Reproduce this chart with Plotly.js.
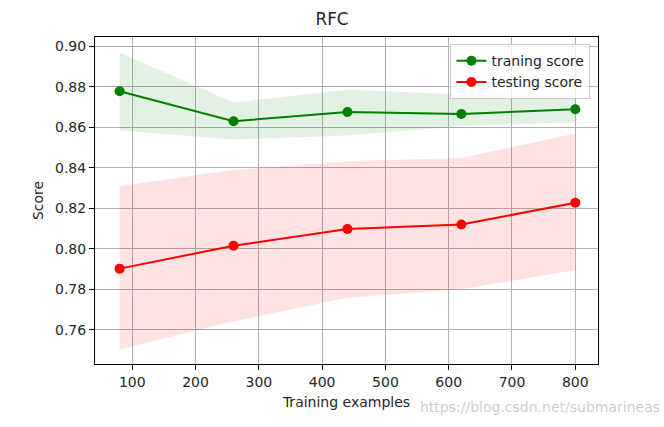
<!DOCTYPE html>
<html>
<head>
<meta charset="utf-8">
<script src="https://cdn.plot.ly/plotly-3.0.1.min.js"></script>
<style>html,body{margin:0;padding:0;background:#fff;}#chart{width:664px;height:427px;}</style>
</head>
<body>
<div id="chart"></div>
<script>
const trainSizes = [80, 260, 440, 620, 800];
const trainMean = [0.8778, 0.8630, 0.8676, 0.8666, 0.8689];
const trainUpper = [0.8970, 0.8723, 0.8786, 0.8762, 0.8760];
const trainLower = [0.8585, 0.8540, 0.8560, 0.8605, 0.8625];
const testMean = [0.7902, 0.8015, 0.8098, 0.8120, 0.8227];
const testUpper = [0.8309, 0.8390, 0.8432, 0.8449, 0.8569];
const testLower = [0.7502, 0.7642, 0.7758, 0.7800, 0.7894];
const xTicks = [100, 200, 300, 400, 500, 600, 700, 800];
const yTicks = [0.76, 0.78, 0.80, 0.82, 0.84, 0.86, 0.88, 0.90];
const labels = {title: 'RFC', x: 'Training examples', y: 'Score', train: 'traning score', test: 'testing score', watermark: 'https://blog.csdn.net/submarineas'};

const font = {family: 'DejaVu Sans, sans-serif', size: 14, color: '#262626'};

const traces = [
  {x: trainSizes, y: trainLower, mode: 'lines', line: {width: 0, color: 'rgba(0,128,0,0)'}, showlegend: false, hoverinfo: 'skip'},
  {x: trainSizes, y: trainUpper, mode: 'lines', line: {width: 0, color: 'rgba(0,128,0,0)'}, fill: 'tonexty', fillcolor: 'rgba(0,128,0,0.11)', showlegend: false, hoverinfo: 'skip'},
  {x: trainSizes, y: testLower, mode: 'lines', line: {width: 0, color: 'rgba(255,0,0,0)'}, showlegend: false, hoverinfo: 'skip'},
  {x: trainSizes, y: testUpper, mode: 'lines', line: {width: 0, color: 'rgba(255,0,0,0)'}, fill: 'tonexty', fillcolor: 'rgba(255,0,0,0.11)', showlegend: false, hoverinfo: 'skip'},
  {x: trainSizes, y: trainMean, mode: 'lines+markers', name: labels.train, line: {color: 'green', width: 2}, marker: {color: 'green', size: 10}},
  {x: trainSizes, y: testMean, mode: 'lines+markers', name: labels.test, line: {color: 'red', width: 2}, marker: {color: 'red', size: 10}}
];

const axisCommon = {
  showline: true, linecolor: '#000', linewidth: 1, mirror: true,
  ticks: 'outside', ticklen: 5, tickwidth: 1, tickcolor: '#000',
  showgrid: true, gridcolor: '#b0b0b0', gridwidth: 1, zeroline: false,
  tickfont: font
};

const layout = {
  width: 664, height: 427,
  paper_bgcolor: '#fff', plot_bgcolor: '#fff',
  margin: {l: 95, r: 66, t: 37, b: 63},
  font: font,
  title: {text: labels.title, font: {family: 'DejaVu Sans, sans-serif', size: 16.8, color: '#262626'}, x: 0.5, xanchor: 'center', y: 0.955, yanchor: 'middle'},
  xaxis: Object.assign({}, axisCommon, {
    range: [41.1, 835.9], tickvals: xTicks, ticktext: xTicks.map(String),
    title: {text: labels.x, font: font, standoff: 8}
  }),
  yaxis: Object.assign({}, axisCommon, {
    range: [0.7431, 0.9046], tickvals: yTicks, ticktext: yTicks.map(v => v.toFixed(2)),
    title: {text: labels.y, font: font, standoff: 8}
  }),
  legend: {
    x: 0.985, y: 0.978, xanchor: 'right', yanchor: 'top',
    bgcolor: 'rgba(255,255,255,0.8)', bordercolor: '#cccccc', borderwidth: 1,
    font: {family: 'DejaVu Sans, sans-serif', size: 14, color: '#262626'},
    traceorder: 'normal', tracegroupgap: 0
  },
  annotations: [{
    text: labels.watermark, xref: 'paper', yref: 'paper', x: 0.6425, y: -0.1306,
    xanchor: 'left', yanchor: 'middle', showarrow: false,
    font: {family: 'DejaVu Sans, sans-serif', size: 14, color: 'rgba(200,200,200,0.9)'}
  }],
  showlegend: true
};

Plotly.newPlot('chart', traces, layout, {displayModeBar: false, staticPlot: true});
</script>
</body>
</html>
